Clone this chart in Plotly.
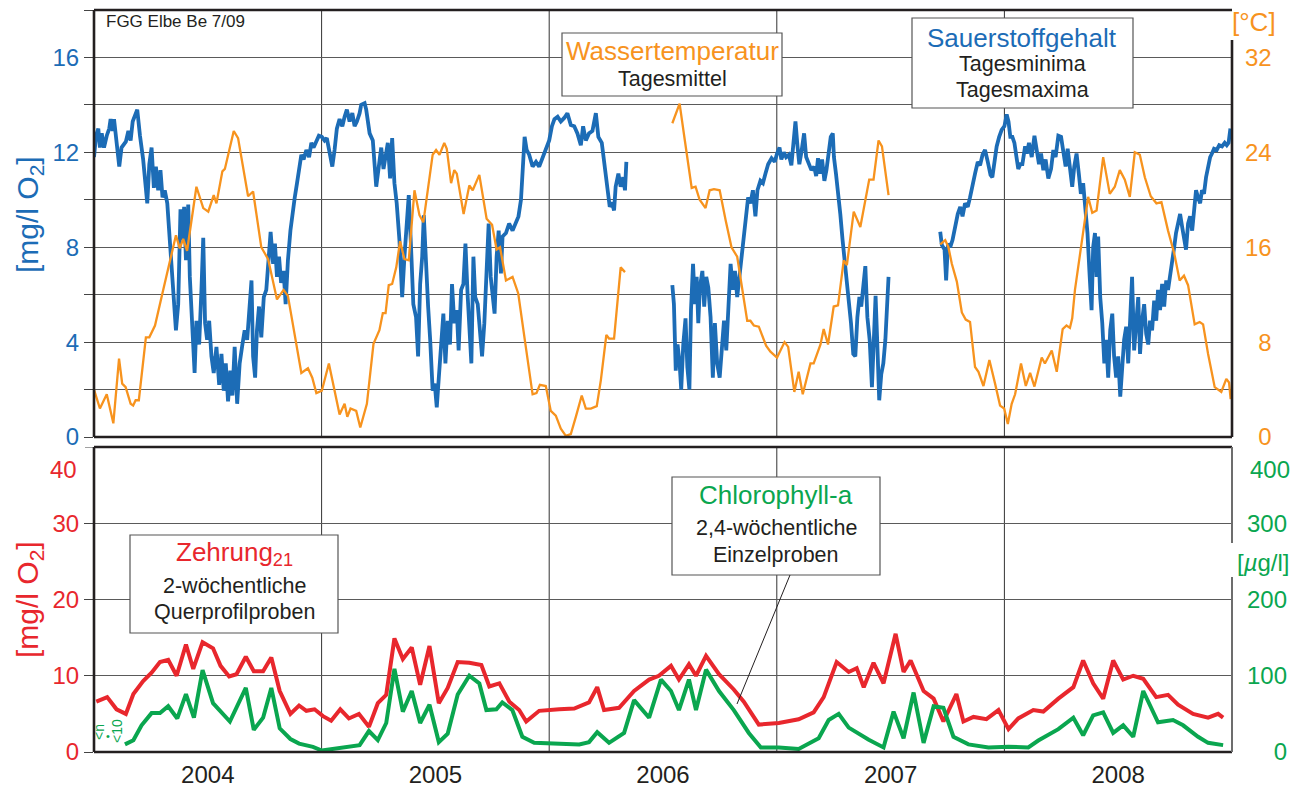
import plotly.graph_objects as go

# ---------------------------------------------------------------------------
# Data (time given as years since 1 Jan 2004)
# ---------------------------------------------------------------------------
YEAR0 = 2004
year_labels = ["2004", "2005", "2006", "2007", "2008"]

# Sauerstoffgehalt (Tagesminima / Tagesmaxima), mg/l O2 – three measuring periods
o2_a_t = [0.000, 0.009, 0.019, 0.026, 0.034, 0.044, 0.056, 0.067, 0.073, 0.082,
          0.088, 0.097, 0.111, 0.121, 0.140, 0.151, 0.161, 0.170, 0.180, 0.190,
          0.202, 0.216, 0.234, 0.243, 0.253, 0.263, 0.272, 0.282, 0.292, 0.301,
          0.311, 0.322, 0.333, 0.345, 0.360, 0.370, 0.380, 0.389, 0.396, 0.404,
          0.414, 0.421, 0.433, 0.442, 0.450, 0.462, 0.472, 0.480, 0.488, 0.497,
          0.506, 0.516, 0.526, 0.538, 0.550, 0.560, 0.570, 0.579, 0.589, 0.599,
          0.608, 0.618, 0.629, 0.640, 0.652, 0.662, 0.673, 0.684, 0.692, 0.699,
          0.708, 0.716, 0.725, 0.735, 0.746, 0.757, 0.768, 0.776, 0.787, 0.795,
          0.804, 0.813, 0.822, 0.833, 0.842, 0.852, 0.863, 0.871, 0.882, 0.892,
          0.904, 0.911, 0.921, 0.933, 0.945, 0.955, 0.965, 0.977, 0.988, 1.001,
          1.013, 1.023, 1.035, 1.047, 1.057, 1.067, 1.079, 1.091, 1.101, 1.111,
          1.123, 1.135, 1.145, 1.155, 1.167, 1.174, 1.189, 1.196, 1.211,
          1.225, 1.240, 1.251, 1.262, 1.272, 1.281, 1.291, 1.301, 1.310, 1.320,
          1.330, 1.342, 1.354, 1.364, 1.374, 1.383, 1.393, 1.403, 1.415, 1.424,
          1.433, 1.442, 1.449, 1.459, 1.468, 1.477, 1.488, 1.497, 1.506, 1.515,
          1.525, 1.535, 1.544, 1.554, 1.564, 1.573, 1.583, 1.594, 1.602, 1.613,
          1.623, 1.632, 1.642, 1.649, 1.658, 1.667, 1.675, 1.686, 1.696, 1.705,
          1.715, 1.725, 1.734, 1.743, 1.751, 1.760, 1.769, 1.778, 1.788, 1.795,
          1.810, 1.824, 1.839, 1.854, 1.865, 1.876, 1.883, 1.892, 1.901, 1.912,
          1.927, 1.942, 1.956, 1.971, 1.985, 2.000, 2.012, 2.023, 2.037, 2.051,
          2.066, 2.080, 2.095, 2.110, 2.124, 2.139, 2.149, 2.161, 2.175, 2.190,
          2.205, 2.216, 2.231, 2.246, 2.256, 2.266, 2.275, 2.285, 2.292, 2.304,
          2.314, 2.325, 2.333, 2.339]
o2_a_v = [11.8, 12.7, 13.0, 12.2, 12.8, 12.2, 12.7, 13.0, 13.4, 12.9,
          13.4, 12.7, 11.4, 12.2, 12.45, 12.9, 12.5, 13.3, 13.6, 13.8,
          12.7, 11.7, 9.85, 11.5, 12.2, 10.5, 11.4, 10.4, 11.25, 10.1,
          10.4, 9.85, 8.3, 6.75, 4.5, 5.6, 9.6, 8.3, 9.7, 7.45,
          9.8, 6.75, 4.8, 2.7, 4.9, 3.9, 6.2, 8.4, 4.8, 4.1,
          4.9, 3.4, 2.7, 3.8, 2.2, 3.5, 1.95, 3.1, 1.5, 2.8,
          1.75, 3.8, 1.4, 3.1, 3.9, 4.5, 4.1, 5.3, 6.6, 3.4,
          2.5, 4.5, 5.5, 4.2, 5.9, 6.2, 7.6, 8.65, 7.3, 8.15,
          6.75, 7.6, 6.5, 7.0, 5.6, 7.45, 8.7, 9.4, 10.1, 10.7,
          11.4, 11.9, 11.7, 12.1, 11.8, 12.4, 12.2, 12.5, 12.7, 12.65,
          12.5, 12.6, 11.95, 11.4, 12.1, 13.0, 13.4, 13.1, 13.5, 13.8,
          13.3, 13.65, 13.1, 13.3, 13.65, 14.0, 14.07, 13.8, 12.8,
          12.5, 10.55, 11.5, 12.2, 11.3, 11.95, 12.4, 10.9, 12.6, 10.7,
          9.85, 8.3, 5.9, 7.6, 9.0, 10.2, 8.0, 5.6, 5.05, 3.4,
          6.45, 7.6, 9.35, 6.9, 5.5, 4.1, 1.95, 2.25, 1.25, 2.5,
          3.65, 5.2, 3.1, 4.9, 3.9, 6.45, 4.8, 5.35, 3.65, 6.2,
          6.45, 8.15, 5.9, 4.8, 3.1, 7.6, 5.9, 5.6, 4.5, 3.4,
          4.8, 6.75, 9.0, 6.75, 5.9, 5.2, 7.6, 8.7, 6.9, 8.45,
          8.6, 9.0, 8.7, 9.0, 9.3, 10.0, 11.4, 12.65, 12.1, 11.9,
          11.4, 11.6, 11.4, 11.8, 12.1, 12.5, 13.1, 13.4, 13.5, 13.3,
          13.45, 13.65, 13.15, 13.1, 12.8, 12.3, 13.1, 12.5, 12.8, 12.9,
          13.65, 12.65, 12.4, 11.25, 10.55, 9.7, 9.9, 9.55, 10.55, 11.1,
          10.55, 10.95, 10.4, 11.6]

o2_b_t = [2.541, 2.548, 2.556, 2.564, 2.573, 2.580, 2.589, 2.599, 2.607, 2.616,
          2.623, 2.632, 2.640, 2.648, 2.655, 2.662, 2.673, 2.681, 2.690, 2.699,
          2.709, 2.719, 2.728, 2.738, 2.749, 2.757, 2.768, 2.778, 2.787, 2.797,
          2.807, 2.816, 2.826, 2.836, 2.845, 2.855, 2.866, 2.874, 2.884, 2.895,
          2.906, 2.915, 2.928, 2.939, 2.950, 2.962, 2.977, 2.991, 3.001, 3.012,
          3.020, 3.031, 3.041, 3.053, 3.064, 3.075, 3.082, 3.091, 3.099, 3.108,
          3.120, 3.129, 3.140, 3.152, 3.164, 3.173, 3.181, 3.190, 3.199, 3.209,
          3.218, 3.228, 3.237, 3.246, 3.251, 3.260, 3.269, 3.279, 3.289, 3.298,
          3.307, 3.316, 3.326, 3.336, 3.345, 3.354, 3.363, 3.371, 3.380, 3.389,
          3.398, 3.408, 3.418, 3.427, 3.434, 3.441, 3.450, 3.459, 3.468, 3.477,
          3.484, 3.491]
o2_b_v = [6.4, 5.6, 2.8, 3.9, 3.1, 2.0, 3.9, 5.0, 2.95, 2.0,
          5.35, 7.3, 5.6, 6.75, 4.8, 6.3, 7.0, 5.5, 6.75, 6.3,
          5.05, 2.5, 4.8, 3.1, 2.5, 3.65, 4.9, 3.65, 5.6, 7.3,
          6.2, 7.0, 5.9, 6.75, 7.6, 8.7, 9.3, 10.1, 9.85, 10.4,
          9.3, 10.4, 10.8, 10.7, 11.1, 11.5, 11.75, 11.6, 11.95, 12.2,
          11.7, 12.0, 11.8, 11.9, 11.45, 12.8, 13.3, 12.25, 11.5, 12.0,
          12.8, 11.8, 11.5, 11.25, 11.4, 11.0, 11.75, 11.1, 11.7, 10.8,
          11.25, 12.1, 12.65, 12.8, 11.8, 11.1, 10.4, 9.4, 8.3, 7.45,
          6.75, 5.9, 4.8, 3.5, 3.4, 5.05, 5.9, 5.5, 6.45, 7.2,
          5.05, 4.1, 2.1, 4.1, 5.95, 4.1, 1.55, 2.65, 3.1, 4.1,
          5.75, 6.75]

o2_c_t = [3.718, 3.725, 3.737, 3.744, 3.752, 3.762, 3.772, 3.784, 3.795, 3.806,
          3.816, 3.827, 3.839, 3.849, 3.860, 3.871, 3.883, 3.893, 3.904, 3.915,
          3.927, 3.939, 3.947, 3.956, 3.966, 3.977, 3.988, 4.000, 4.010, 4.018,
          4.026, 4.035, 4.044, 4.053, 4.061, 4.070, 4.079, 4.091, 4.099, 4.108,
          4.120, 4.132, 4.142, 4.152, 4.161, 4.171, 4.181, 4.193, 4.205, 4.215,
          4.225, 4.237, 4.249, 4.259, 4.269, 4.278, 4.288, 4.298, 4.307, 4.317,
          4.327, 4.336, 4.346, 4.357, 4.365, 4.374, 4.383, 4.390, 4.398, 4.405,
          4.412, 4.421, 4.430, 4.439, 4.447, 4.456, 4.465, 4.474, 4.482, 4.491,
          4.500, 4.509, 4.518, 4.526, 4.535, 4.544, 4.553, 4.561, 4.570, 4.579,
          4.588, 4.596, 4.605, 4.614, 4.623, 4.632, 4.640, 4.649, 4.658, 4.667,
          4.675, 4.684, 4.693, 4.702, 4.711, 4.719, 4.728, 4.737, 4.746, 4.754,
          4.763, 4.772, 4.781, 4.789, 4.798, 4.807, 4.816, 4.825, 4.833, 4.842,
          4.851, 4.860, 4.868, 4.877, 4.886, 4.895, 4.904, 4.912, 4.921, 4.933,
          4.944, 4.956, 4.968, 4.977, 4.985, 4.993]
o2_c_v = [8.65, 8.1, 7.9, 6.6, 8.15, 8.0, 8.3, 9.0, 9.4, 9.7,
          9.3, 9.85, 9.7, 10.1, 10.7, 11.1, 11.6, 11.45, 11.9, 12.1,
          11.6, 11.05, 10.95, 11.7, 12.25, 12.65, 12.95, 13.1, 13.6, 13.3,
          12.65, 12.65, 12.4, 11.8, 11.3, 11.5, 11.5, 12.25, 11.95, 12.4,
          11.8, 12.7, 11.95, 11.5, 11.95, 11.25, 11.7, 10.9, 11.3, 12.1,
          11.8, 12.7, 12.65, 11.9, 11.4, 12.15, 11.2, 10.55, 11.4, 11.95,
          11.1, 10.25, 10.7, 9.4, 8.6, 6.9, 5.35, 8.0, 8.6, 6.75,
          8.45, 5.9, 4.8, 3.1, 4.1, 2.5, 4.5, 5.2, 3.4, 2.5,
          3.4, 1.7, 3.1, 4.1, 4.65, 3.1, 5.05, 6.75, 3.65, 4.8,
          5.9, 3.5, 4.9, 5.6, 4.35, 3.9, 4.9, 4.5, 5.75, 4.9,
          6.2, 5.35, 6.45, 5.5, 6.6, 6.2, 6.75, 7.3, 8.0, 8.6,
          9.0, 9.4, 8.85, 8.3, 7.9, 9.0, 9.3, 8.7, 9.7, 10.4,
          10.1, 9.85, 10.4, 10.25, 10.95, 11.4, 11.8, 11.95, 12.15, 12.1,
          12.3, 12.25, 12.4, 12.3, 12.4, 13.0]

# Wassertemperatur (Tagesmittel), degC
wt_a_t = [0.000, 0.026, 0.056, 0.085, 0.110, 0.124, 0.139, 0.161, 0.172, 0.183,
          0.197, 0.228, 0.243, 0.268, 0.304, 0.360, 0.377, 0.392, 0.409, 0.450,
          0.480, 0.502, 0.526, 0.538, 0.564, 0.575, 0.614, 0.633, 0.677, 0.699,
          0.735, 0.765, 0.804, 0.833, 0.852, 0.877, 0.911, 0.940, 0.959, 0.977,
          1.001, 1.032, 1.079, 1.101, 1.113, 1.127, 1.152, 1.170, 1.199,
          1.228, 1.254, 1.269, 1.281, 1.295, 1.310, 1.328, 1.345, 1.364, 1.383,
          1.408, 1.430, 1.447, 1.488, 1.503, 1.518, 1.539, 1.550, 1.569, 1.583,
          1.594, 1.624, 1.649, 1.664, 1.693, 1.725, 1.749, 1.769, 1.784, 1.810,
          1.839, 1.864, 1.895, 1.927, 1.944, 1.959, 1.985, 2.007, 2.029, 2.051,
          2.073, 2.095, 2.117, 2.143, 2.161, 2.183, 2.209, 2.227, 2.251, 2.263,
          2.285, 2.314, 2.333]
wt_a_v = [4.0, 2.4, 3.6, 1.15, 6.6, 4.5, 4.2, 2.8, 2.65, 3.1,
          3.1, 8.4, 8.4, 9.4, 12.4, 17.0, 15.9, 16.7, 15.7, 21.1,
          19.3, 19.0, 20.4, 19.7, 22.4, 22.6, 25.8, 25.2, 20.3, 20.7,
          16.0, 15.0, 11.6, 12.4, 11.9, 9.0, 5.4, 5.8, 5.0, 3.7,
          3.9, 6.2, 1.9, 2.8, 1.7, 2.4, 2.2, 0.8, 2.8,
          7.86, 9.0, 10.45, 10.45, 12.8, 12.9, 14.3, 16.5, 15.0, 14.9,
          20.8, 18.7, 18.1, 23.8, 24.2, 23.8, 24.8, 24.3, 21.4, 22.5,
          22.2, 18.8, 21.2, 20.8, 22.1, 18.4, 17.9, 15.8, 16.0, 13.2,
          13.5, 12.1, 7.9, 3.6, 3.7, 4.4, 4.3, 2.2, 1.8, 0.7,
          0.1, 0.25, 1.7, 3.5, 2.4, 2.4, 2.6, 4.8, 8.6, 8.3,
          8.3, 14.3, 13.9]

wt_b_t = [2.541, 2.573, 2.596, 2.626, 2.643, 2.661, 2.687, 2.705, 2.724, 2.749,
          2.775, 2.801, 2.826, 2.848, 2.870, 2.884, 2.899, 2.921, 2.953, 2.972,
          3.001, 3.034, 3.050, 3.077, 3.096, 3.114, 3.148, 3.162, 3.192, 3.206,
          3.225, 3.250, 3.269, 3.294, 3.308, 3.338, 3.367, 3.406, 3.425, 3.447,
          3.462, 3.491]
wt_b_v = [26.45, 28.1, 25.0, 21.0, 21.1, 20.0, 19.3, 20.8, 20.9, 20.8,
          18.3, 16.0, 15.2, 12.6, 9.8, 9.8, 9.4, 9.3, 7.7, 7.2,
          6.7, 8.0, 7.6, 3.8, 5.5, 3.6, 6.2, 6.2, 7.8, 9.1,
          7.8, 11.0, 11.1, 14.9, 14.5, 19.0, 17.7, 21.7, 21.7, 25.0,
          24.5, 20.4]

wt_c_t = [3.718, 3.740, 3.754, 3.769, 3.791, 3.813, 3.830, 3.849, 3.871, 3.886,
          3.908, 3.934, 3.959, 3.981, 3.999, 4.015, 4.032, 4.047, 4.073, 4.094,
          4.113, 4.132, 4.164, 4.178, 4.208, 4.230, 4.256, 4.273, 4.288, 4.298,
          4.310, 4.339, 4.368, 4.386, 4.405, 4.434, 4.463, 4.485, 4.507, 4.529,
          4.551, 4.573, 4.595, 4.617, 4.643, 4.668, 4.690, 4.719, 4.746, 4.770,
          4.789, 4.807, 4.836, 4.858, 4.873, 4.895, 4.924, 4.953, 4.975, 4.987,
          4.994]
wt_c_v = [16.25, 16.6, 16.0, 14.6, 13.1, 10.5, 9.9, 9.7, 5.9, 5.5,
          4.3, 6.5, 4.5, 2.65, 2.4, 1.1, 2.8, 3.6, 6.2, 4.3,
          5.4, 4.25, 6.7, 6.2, 7.3, 5.5, 9.1, 9.4, 9.2, 10.0,
          12.4, 16.3, 20.25, 18.9, 19.1, 23.6, 20.5, 21.1, 22.5, 21.7,
          20.25, 24.0, 23.8, 21.9, 20.3, 19.7, 19.8, 17.4, 15.5, 13.2,
          13.6, 12.8, 9.5, 9.7, 9.5, 7.0, 4.2, 3.8, 4.9, 4.6,
          3.2]

# Zehrung21 (2-woechentliche Querprofilproben), mg/l O2
zehr_t = [0.010, 0.058, 0.099, 0.140, 0.173, 0.216, 0.253, 0.290, 0.326, 0.363,
          0.404, 0.436, 0.477, 0.523, 0.556, 0.594, 0.626, 0.667, 0.702, 0.743,
          0.779, 0.816, 0.863, 0.901, 0.933, 0.969, 1.006, 1.042, 1.082, 1.120,
          1.164, 1.208, 1.247, 1.284, 1.320, 1.357, 1.396, 1.433, 1.474, 1.515,
          1.554, 1.598, 1.649, 1.702, 1.737, 1.781, 1.825, 1.868, 1.899, 1.956,
          2.044, 2.110, 2.175, 2.211, 2.241, 2.307, 2.373, 2.439, 2.482, 2.535,
          2.570, 2.614, 2.645, 2.689, 2.746, 2.811, 2.855, 2.921, 3.009, 3.096,
          3.162, 3.206, 3.263, 3.316, 3.351, 3.382, 3.425, 3.469, 3.522, 3.557,
          3.588, 3.645, 3.689, 3.732, 3.789, 3.820, 3.864, 3.921, 3.974, 4.018,
          4.061, 4.127, 4.171, 4.237, 4.303, 4.346, 4.390, 4.434, 4.478, 4.522,
          4.566, 4.610, 4.667, 4.719, 4.763, 4.829, 4.895, 4.939, 4.961]
zehr_v = [6.6, 7.2, 5.6, 5.0, 7.6, 9.3, 10.4, 11.8, 12.1, 10.0,
          14.1, 10.9, 14.4, 13.6, 11.3, 9.9, 10.2, 12.5, 10.6, 10.6,
          12.4, 8.0, 5.0, 6.1, 5.4, 5.6, 4.7, 4.1, 5.6, 4.4,
          5.0, 3.3, 6.4, 7.5, 14.9, 12.2, 13.7, 8.8, 13.9, 6.4,
          8.4, 11.8, 11.7, 11.4, 8.6, 9.0, 6.6, 5.5, 4.0, 5.4,
          5.6, 5.7, 6.5, 8.5, 5.5, 5.8, 8.0, 9.5, 10.0, 11.3,
          9.5, 11.5, 10.0, 12.6, 10.2, 8.2, 6.6, 3.6, 3.8, 4.3,
          5.2, 7.2, 11.8, 10.5, 11.0, 8.5, 11.7, 9.0, 15.5, 10.5,
          12.0, 8.0, 7.0, 4.0, 7.6, 4.0, 4.6, 4.3, 5.5, 3.0,
          4.4, 5.5, 5.3, 7.0, 8.5, 12.0, 9.0, 7.0, 12.0, 9.5,
          10.0, 9.6, 7.2, 7.5, 6.2, 5.0, 4.5, 5.0, 4.5]

# Chlorophyll-a (2,4-woechentliche Einzelproben), ug/l
chl_t = [0.136, 0.173, 0.209, 0.253, 0.290, 0.326, 0.366, 0.404, 0.439, 0.477,
         0.523, 0.597, 0.667, 0.702, 0.743, 0.779, 0.816, 0.863, 0.901, 0.962,
         1.001, 1.079, 1.167, 1.208, 1.247, 1.284, 1.320, 1.357, 1.396, 1.433,
         1.474, 1.515, 1.554, 1.598, 1.649, 1.693, 1.724, 1.768, 1.794, 1.838,
         1.882, 1.934, 2.044, 2.132, 2.175, 2.211, 2.263, 2.329, 2.373, 2.439,
         2.491, 2.535, 2.570, 2.614, 2.645, 2.689, 2.746, 2.811, 2.877, 2.930,
         3.009, 3.096, 3.184, 3.228, 3.272, 3.316, 3.404, 3.469, 3.513, 3.557,
         3.601, 3.645, 3.689, 3.732, 3.776, 3.842, 3.930, 4.018, 4.105, 4.149,
         4.237, 4.303, 4.346, 4.390, 4.434, 4.478, 4.522, 4.566, 4.610, 4.675,
         4.741, 4.785, 4.851, 4.895, 4.961]
chl_v = [10, 15.5, 35, 51, 51, 60, 44, 76, 45, 107.5,
         64, 40, 84, 29, 45, 84, 31, 17, 11, 6.7,
         2, 5, 9, 27.5, 15.5, 38, 109, 53, 80, 38,
         62, 13, 24, 75.5, 100, 90, 55, 56, 65, 55,
         20, 12, 11, 10, 13, 26, 12, 25, 68, 45,
         95, 80, 55, 95, 55, 108, 80, 55, 25, 6,
         6, 4, 18, 42, 50, 32, 16, 6, 53, 18,
         78, 12, 60, 58, 20, 10, 6, 7, 6, 15,
         30, 45, 22, 48, 52, 25, 35, 20, 80, 39,
         42, 35, 20, 12, 9]

# Axis tick values
o2_ticks = [0, 4, 8, 12, 16]
temp_ticks = [0, 8, 16, 24, 32]
zehr_ticks = [0, 10, 20, 30, 40]
chl_ticks = [0, 100, 200, 300, 400]

# ---------------------------------------------------------------------------
# Styling
# ---------------------------------------------------------------------------
BLUE = "#1c6cb6"
ORANGE = "#f7931e"
RED = "#e8272d"
GREEN = "#0aa64f"
INK = "#231f20"
GRID = "#5a5a5a"
FONT = "Liberation Sans, Arial, Helvetica, sans-serif"

W, H = 1306, 787
ML, MR, MT, MB = 94, 74, 10, 35
PW, PH = W - ML - MR, H - MT - MB


def px(x):
    return (x - ML) / PW


def py(y):
    return (H - MB - y) / PH


def yrs(t):
    return [YEAR0 + v for v in t]


TOP_DOM = [py(437), 1.0]
BOT_DOM = [0.0, py(447)]

fig = go.Figure()

# Oxygen (top panel, left axis)
for t, v in ((o2_a_t, o2_a_v), (o2_b_t, o2_b_v), (o2_c_t, o2_c_v)):
    fig.add_trace(go.Scatter(x=yrs(t), y=v, mode="lines", xaxis="x", yaxis="y",
                             line=dict(color=BLUE, width=3.8), hoverinfo="skip",
                             showlegend=False))
# Water temperature (top panel, right axis)
for t, v in ((wt_a_t, wt_a_v), (wt_b_t, wt_b_v), (wt_c_t, wt_c_v)):
    fig.add_trace(go.Scatter(x=yrs(t), y=v, mode="lines", xaxis="x", yaxis="y2",
                             line=dict(color=ORANGE, width=2.3), hoverinfo="skip",
                             showlegend=False))
# Chlorophyll-a (bottom panel, right axis)
fig.add_trace(go.Scatter(x=yrs(chl_t), y=chl_v, mode="lines", xaxis="x2", yaxis="y4",
                         line=dict(color=GREEN, width=4), showlegend=False))
# Zehrung (bottom panel, left axis)
fig.add_trace(go.Scatter(x=yrs(zehr_t), y=zehr_v, mode="lines", xaxis="x2", yaxis="y3",
                         line=dict(color=RED, width=4), showlegend=False))

xr = [YEAR0, YEAR0 + 5]
year_centres = [YEAR0 + i + 0.5 for i in range(len(year_labels))]
year_edges = [YEAR0 + i for i in range(1, len(year_labels))]

fig.update_layout(
    width=W, height=H,
    margin=dict(l=ML, r=MR, t=MT, b=MB, autoexpand=False),
    paper_bgcolor="white", plot_bgcolor="white",
    font=dict(family=FONT, color=INK),
    xaxis=dict(domain=[0, 1], anchor="y", range=xr, showticklabels=False,
               showgrid=False, zeroline=False, ticks="", automargin=False),
    xaxis2=dict(domain=[0, 1], anchor="y3", range=xr, matches="x",
                tickvals=year_centres, ticktext=year_labels, ticks="",
                showgrid=False, zeroline=False, ticklabelstandoff=6, automargin=False,
                tickfont=dict(size=24, color=INK)),
    yaxis=dict(domain=TOP_DOM, anchor="x", range=[0, 18],
               tickvals=o2_ticks, automargin=False,
               ticks="outside", ticklen=9, tickcolor="#444", tickwidth=1,
               showgrid=True, gridcolor=GRID, gridwidth=1, zeroline=False,
               minor=dict(dtick=2, tick0=0, showgrid=True, gridcolor=GRID, gridwidth=1,
                          ticks="outside", ticklen=9, tickcolor="#444"),
               tickfont=dict(size=24, color=BLUE)),
    yaxis2=dict(domain=TOP_DOM, anchor="x", overlaying="y", side="right",
                range=[0, 36], tickvals=temp_ticks, automargin=False,
                ticktext=[f"{v:\u2007>2d}" for v in temp_ticks],
                ticks="", showgrid=False, zeroline=False, ticklabelstandoff=12,
                tickfont=dict(size=24, color=ORANGE)),
    yaxis3=dict(domain=BOT_DOM, anchor="x2", range=[0, 40],
                tickvals=zehr_ticks[:-1], automargin=False,
                ticks="outside", ticklen=9, tickcolor="#444", tickwidth=1,
                showgrid=True, gridcolor=GRID, gridwidth=1, zeroline=False,
                tickfont=dict(size=24, color=RED)),
    yaxis4=dict(domain=BOT_DOM, anchor="x2", overlaying="y3", side="right",
                range=[0, 400], tickvals=chl_ticks[:-1], automargin=False,
                ticktext=[f"{v:\u2007>3d}" for v in chl_ticks[:-1]],
                ticks="", showgrid=False, zeroline=False, ticklabelstandoff=14,
                tickfont=dict(size=24, color=GREEN)),
)

shapes = []
# year boundaries
for xe in year_edges:
    for yd in ("y domain", "y3 domain"):
        shapes.append(dict(type="line", xref="x", yref=yd, x0=xe, x1=xe, y0=0, y1=1,
                           line=dict(color="#333", width=1), layer="below"))
# tick at the top of the lower panel
shapes.append(dict(type="line", xref="paper", yref="y3", x0=px(85), x1=px(94),
                   y0=zehr_ticks[-1], y1=zehr_ticks[-1], line=dict(color="#444", width=1)))

# panel frames
frame = dict(color=INK, width=2.6)
for yd in ("y domain", "y3 domain"):
    shapes.append(dict(type="line", xref="x domain", yref=yd, x0=0, x1=0, y0=0, y1=1, line=frame))
    shapes.append(dict(type="line", xref="x domain", yref=yd, x0=0, x1=1, y0=0, y1=0, line=frame))
    shapes.append(dict(type="line", xref="x domain", yref=yd, x0=0, x1=1, y0=1, y1=1, line=frame))
shapes.append(dict(type="line", xref="x domain", yref="y domain", x0=1, x1=1,
                   y0=0, y1=(437 - 40) / 427, line=frame))
side_grey = dict(color="#6d6d6d", width=2)
shapes.append(dict(type="line", xref="x domain", yref="y3 domain", x0=1, x1=1,
                   y0=0, y1=(752 - 577) / 305, line=side_grey))
shapes.append(dict(type="line", xref="x domain", yref="y3 domain", x0=1, x1=1,
                   y0=(752 - 543) / 305, y1=1, line=side_grey))

# legend boxes (pixel boxes)
boxes = [(562, 33, 782, 96), (912, 18, 1133, 108), (130, 535, 338, 633), (672, 477, 880, 575)]
for x0, y0, x1, y1 in boxes:
    shapes.append(dict(type="rect", xref="paper", yref="paper",
                       x0=px(x0), x1=px(x1), y0=py(y1), y1=py(y0),
                       fillcolor="white", line=dict(color="#555", width=1.2), layer="above"))
# leader line from the chlorophyll box
shapes.append(dict(type="line", xref="paper", yref="paper",
                   x0=px(790), y0=py(575), x1=px(737), y1=py(704),
                   line=dict(color=INK, width=1), layer="above"))

fig.update_layout(shapes=shapes)

ann = []


def text(x, y, s, size, color=INK, anchor="center", angle=0):
    ann.append(dict(xref="paper", yref="paper", x=px(x), y=py(y), text=s,
                    showarrow=False, xanchor=anchor, yanchor="middle",
                    textangle=angle, font=dict(size=size, color=color, family=FONT)))


text(104, 22, "FGG Elbe Be 7/09", 17, anchor="left")
text(672, 51, "Wassertemperatur", 26, ORANGE)
text(672, 79, "Tagesmittel", 21.5)
text(1022, 38, "Sauerstoffgehalt", 26, BLUE)
text(1022, 64, "Tagesminima", 21.5)
text(1022, 90, "Tagesmaxima", 21.5)
text(234, 553, "Zehrung<sub>21</sub>", 26, RED)
text(234, 586, "2-wöchentliche", 21.5)
text(234, 612, "Querprofilproben", 21.5)
text(776, 495, "Chlorophyll-a", 26, GREEN)
text(776, 528, "2,4-wöchentliche", 21.5)
text(776, 555, "Einzelproben", 21.5)

# axis titles
text(29, 215, "[mg/l O<sub>2</sub>]", 30, BLUE, angle=-90)
text(29, 600, "[mg/l O<sub>2</sub>]", 30, RED, angle=-90)
text(1278, 22, "[°C]", 26, ORANGE, anchor="right")
text(1292, 562, "[<i>µ</i>g/l]", 24, GREEN, anchor="right")

# top tick labels of the lower panel sit slightly below their gridline
ann.append(dict(xref="paper", yref="y3", x=px(79), y=zehr_ticks[-1], text=str(zehr_ticks[-1]),
                showarrow=False, xanchor="right", yanchor="middle", yshift=-22,
                font=dict(size=24, color=RED, family=FONT)))
ann.append(dict(xref="paper", yref="y4", x=px(1292), y=chl_ticks[-1], text=str(chl_ticks[-1]),
                showarrow=False, xanchor="right", yanchor="middle", yshift=-22,
                font=dict(size=24, color=GREEN, family=FONT)))

# detection-limit note at the start of the chlorophyll series
text(99, 732, "&lt;n", 14, GREEN, angle=-90)
text(107.5, 736, "•", 11, GREEN)
text(117, 731, "&lt;10", 14, GREEN, angle=-90)

fig.update_layout(annotations=ann)

fig.write_html("out.html")
